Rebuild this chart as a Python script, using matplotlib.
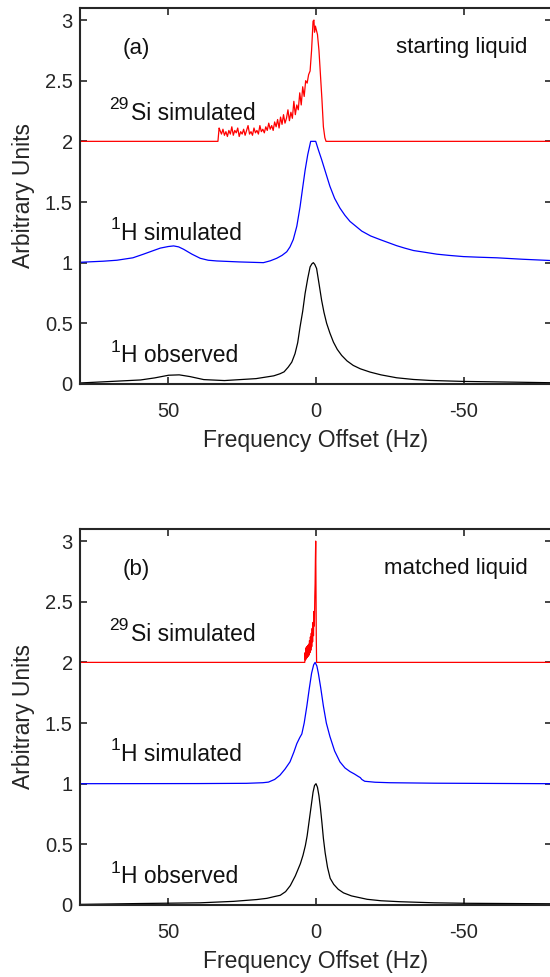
import matplotlib
matplotlib.use("Agg")
import matplotlib.pyplot as plt
import numpy as np

plt.rcParams['font.family'] = ['Liberation Sans', 'DejaVu Sans']

# ---------------- Panel (a): starting liquid ----------------
a_obs_f = [80, 70, 59.4, 54.6, 49.9, 46.3, 42.7, 38.0, 31, 20.3, 14.3, 12.2, 10.8, 9.4, 8.2,
           7.1, 6.2, 5.4, 4.5, 3.7, 2.8, 2.0, 1.4, 0.9, 0.4, -0.2, -1.0, -1.9, -2.7, -3.6,
           -4.7, -5.9, -7.2, -8.7, -10.5, -12.6, -15, -18.3, -22, -27.3, -33, -38.6, -49.9,
           -66.7, -80]
a_obs_v = [0.008, 0.02, 0.033, 0.05, 0.072, 0.075, 0.061, 0.036, 0.028, 0.044, 0.067, 0.084,
           0.10, 0.139, 0.18, 0.25, 0.34, 0.47, 0.60, 0.745, 0.87, 0.965, 0.99, 1.0, 0.985,
           0.952, 0.83, 0.69, 0.59, 0.50, 0.42, 0.345, 0.285, 0.235, 0.19, 0.153, 0.125,
           0.098, 0.075, 0.051, 0.037, 0.029, 0.021, 0.015, 0.01]

a_sim_f = [80, 72, 67.4, 62, 58.4, 55, 52.7, 50, 48.2, 46.5, 44.8, 42, 39.2, 36.5, 33.6, 26,
           17.8, 15.5, 13.3, 11.5, 9.9, 8.8, 7.7, 6.5, 5.4, 4.5, 3.7, 2.8, 1.8, 0.1, -0.8,
           -1.9, -3.3, -4.7, -6.3, -8.1, -9.8, -11.5, -13.5, -15.5, -18.5, -21.7, -24.5,
           -27.3, -30, -33, -37, -40.9, -45, -49.9, -55, -61.2, -70, -80]
a_sim_v = [0.003, 0.012, 0.02, 0.04, 0.07, 0.10, 0.12, 0.133, 0.138, 0.13, 0.11, 0.07, 0.036,
           0.02, 0.014, 0.006, 0.0, 0.015, 0.036, 0.06, 0.09, 0.13, 0.19, 0.30, 0.46, 0.62,
           0.76, 0.89, 1.0, 1.0, 0.93, 0.85, 0.74, 0.63, 0.53, 0.45, 0.39, 0.34, 0.30, 0.26,
           0.22, 0.19, 0.165, 0.14, 0.12, 0.10, 0.085, 0.07, 0.06, 0.05, 0.045, 0.04, 0.028,
           0.017]

a_si_f = [80, 33.2, 32.8, 32.5, 32, 31.5, 31, 30.5, 30, 29.5, 29, 28.5, 28, 27.5, 27, 26.5,
          26, 25.5, 25, 24.5, 24, 23.5, 23, 22.5, 22, 21.5, 21, 20.5, 20, 19.5, 19, 18.5,
          18, 17.5, 17, 16.5, 16, 15.5, 15, 14.5, 14, 13.5, 13, 12.5, 12, 11.5, 11, 10.5,
          10, 9.5, 9, 8.5, 8, 7.5, 7, 6.5, 6, 5.5, 5, 4.5, 4, 3.5, 3, 2.5, 2, 1.5, 1, 0.7,
          0.5, 0.2, 0, -0.5, -1, -1.5, -2, -2.5, -3, -3.4, -80]
a_si_v = [0.0, 0.0, 0.11, 0.09, 0.06, 0.10, 0.05, 0.08, 0.04, 0.09, 0.06, 0.12, 0.05, 0.09,
          0.07, 0.11, 0.04, 0.08, 0.06, 0.10, 0.05, 0.09, 0.13, 0.06, 0.08, 0.05, 0.11, 0.07,
          0.09, 0.06, 0.13, 0.08, 0.10, 0.07, 0.12, 0.09, 0.15, 0.10, 0.13, 0.09, 0.16, 0.12,
          0.18, 0.11, 0.20, 0.14, 0.22, 0.15, 0.19, 0.26, 0.17, 0.24, 0.19, 0.33, 0.22, 0.30,
          0.26, 0.40, 0.30, 0.45, 0.37, 0.50, 0.48, 0.55, 0.58, 0.75, 0.99, 1.0, 0.90, 0.95,
          0.93, 0.88, 0.75, 0.55, 0.35, 0.12, 0.03, 0.0, 0.0]

# ---------------- Panel (b): matched liquid ----------------
b_obs_f = [80, 60, 39.2, 27.9, 20, 16.6, 14, 12.1, 10.3, 8.7, 7, 5.3, 4.4, 3.6, 3.0, 2.5, 2.0,
           1.5, 1.0, 0.5, 0.0, -0.5, -1.0, -1.5, -2.0, -2.5, -3.1, -3.9, -4.8, -6, -7.5,
           -9.3, -12, -17.3, -22, -28.5, -40, -51, -80]
b_obs_v = [0.005, 0.012, 0.018, 0.03, 0.045, 0.055, 0.07, 0.08, 0.11, 0.16, 0.24, 0.34, 0.41,
           0.49, 0.57, 0.66, 0.75, 0.84, 0.93, 0.985, 1.0, 0.97, 0.9, 0.8, 0.68, 0.55, 0.43,
           0.31, 0.22, 0.17, 0.13, 0.10, 0.075, 0.047, 0.035, 0.027, 0.018, 0.014, 0.01]

b_sim_f = [80, 40, 23.5, 18, 16.1, 14, 12.2, 10.5, 8.8, 7.5, 6.5, 5.5, 4.8, 4.0, 3.1, 2.3, 1.5,
           0.8, 0.3, -0.3, -0.8, -1.6, -2.5, -3.5, -4.7, -6.3, -8.1, -9.8, -11.5, -13,
           -14.3, -15.0, -15.5, -16.5, -20, -25, -40, -80]
b_sim_v = [0.0, 0.001, 0.003, 0.008, 0.013, 0.035, 0.07, 0.12, 0.18, 0.26, 0.33, 0.38, 0.41,
           0.50, 0.64, 0.78, 0.91, 0.98, 1.0, 0.97, 0.91, 0.79, 0.64, 0.50, 0.39, 0.27, 0.18,
           0.13, 0.10, 0.08, 0.06, 0.05, 0.035, 0.02, 0.012, 0.008, 0.004, 0.0]

b_si_f = [80, 3.8, 3.7, 3.55, 3.4, 3.25, 3.1, 2.95, 2.8, 2.65, 2.5, 2.35, 2.2, 2.05, 1.9,
          1.75, 1.6, 1.45, 1.3, 1.15, 1.0, 0.85, 0.7, 0.55, 0.4, 0.3, 0.2, 0.1, 0.0, -0.1,
          -0.2, -80]
b_si_v = [0.0, 0.0, 0.08, 0.02, 0.12, 0.03, 0.13, 0.04, 0.14, 0.05, 0.15, 0.06, 0.18, 0.08,
          0.21, 0.10, 0.24, 0.13, 0.28, 0.17, 0.33, 0.22, 0.42, 0.30, 0.55, 0.65, 0.85, 1.0,
          0.6, 0.2, 0.0, 0.0]

yticks = [0, 0.5, 1, 1.5, 2, 2.5, 3]
ytick_labels = ['0', '0.5', '1', '1.5', '2', '2.5', '3']
xticks = [50, 0, -50]
xtick_labels = ['50', '0', '-50']

panels = [
    dict(pos=[0.1449, 0.607, 0.8593, 0.3849], letter='(a)', title='starting liquid',
         obs=(a_obs_f, a_obs_v), sim=(a_sim_f, a_sim_v), si=(a_si_f, a_si_v)),
    dict(pos=[0.1449, 0.0737, 0.8593, 0.3849], letter='(b)', title='matched liquid',
         obs=(b_obs_f, b_obs_v), sim=(b_sim_f, b_sim_v), si=(b_si_f, b_si_v)),
]

fig = plt.figure(figsize=(5.5, 9.77), dpi=100)
spine_c = '#262626'
txt_c = '#111111'
main_fs = 16.5
sup_fs = 12.5
for p in panels:
    ax = fig.add_axes(p['pos'])
    ax.plot(p['si'][0], np.array(p['si'][1]) + 2, color=(1, 0, 0), lw=0.9)
    ax.plot(p['sim'][0], np.array(p['sim'][1]) + 1, color=(0, 0, 1), lw=0.9)
    ax.plot(p['obs'][0], p['obs'][1], color='black', lw=0.9)
    ax.set_xlim(80, -80)
    ax.set_ylim(0, 3.1)
    ax.set_xticks(xticks)
    ax.set_xticklabels(xtick_labels)
    ax.set_yticks(yticks)
    ax.set_yticklabels(ytick_labels)
    ax.tick_params(direction='in', length=5, width=1.2, colors=spine_c, labelsize=14.5,
                   top=True, right=True, labelcolor='#262626')
    ax.tick_params(axis='x', pad=13)
    ax.tick_params(axis='y', pad=5)
    for s in ax.spines.values():
        s.set_linewidth(1.5)
        s.set_color(spine_c)
    ax.set_xlabel('Frequency Offset (Hz)', fontsize=16.5, color='#262626', labelpad=6)
    ax.set_ylabel('Arbitrary Units', fontsize=16.5, color='#262626', labelpad=7)
    ax.text(65.3, 2.72, p['letter'], fontsize=16, ha='left', va='baseline', color=txt_c)
    ax.text(-71.6, 2.73, p['title'], fontsize=16, ha='right', va='baseline', color=txt_c)
    # 29Si simulated
    ax.text(70.2, 2.18 + 0.085, '29', fontsize=sup_fs, ha='left', va='baseline', color=txt_c)
    ax.text(62.8, 2.18, 'Si simulated', fontsize=main_fs, ha='left', va='baseline', color=txt_c)
    # 1H simulated
    ax.text(69.4, 1.19 + 0.085, '1', fontsize=sup_fs, ha='left', va='baseline', color=txt_c)
    ax.text(66.0, 1.19, 'H simulated', fontsize=main_fs, ha='left', va='baseline', color=txt_c)
    # 1H observed
    ax.text(69.4, 0.18 + 0.085, '1', fontsize=sup_fs, ha='left', va='baseline', color=txt_c)
    ax.text(66.0, 0.18, 'H observed', fontsize=main_fs, ha='left', va='baseline', color=txt_c)

fig.savefig('out.png', dpi=100)
